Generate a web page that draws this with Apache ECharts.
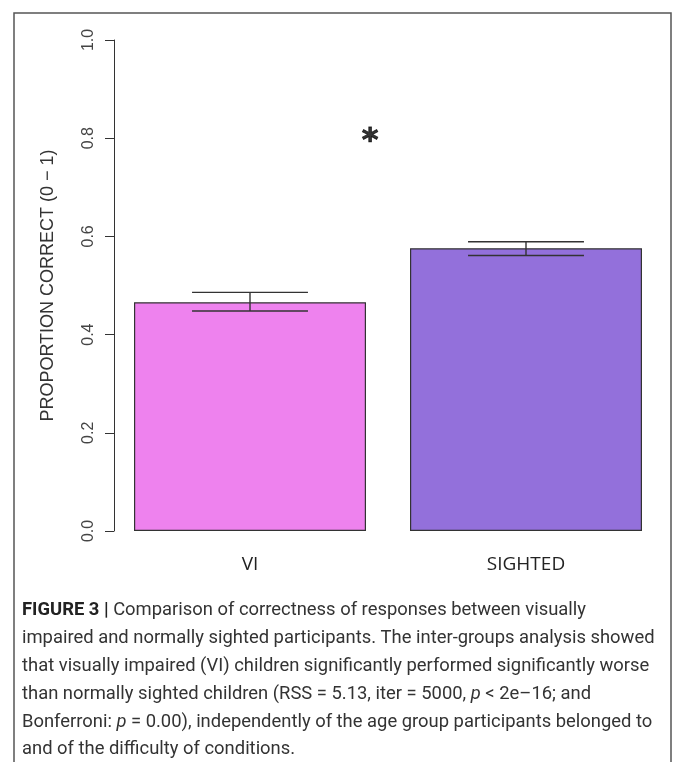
<!DOCTYPE html>
<html>
<head>
<meta charset="utf-8">
<script src="https://cdn.jsdelivr.net/npm/echarts@6/dist/echarts.min.js"></script>
<style>
  html, body { margin: 0; padding: 0; background: #fff; }
  #chart { width: 674px; height: 762px; }
</style>
</head>
<body>
<div id="chart"></div>
<script>
// Group labels and mean proportion of correct responses
const groups = ['VI', 'SIGHTED'];
const meanCorrect = [0.466, 0.576];
// Error bar limits (lower / upper)
const errLow = [0.448, 0.561];
const errHigh = [0.486, 0.589];
const barColors = ['#EE82EE', '#9370DB'];
// Y axis ticks
const yTicks = [0, 0.2, 0.4, 0.6, 0.8, 1.0];
// Significance star, on a 0–2 helper axis spanning both groups
const starPos = [[0.935, 0.81]];

const captionLines = [
  '{b|FIGURE 3 |} Comparison of correctness of responses between visually',
  'impaired and normally sighted participants. The inter-groups analysis showed',
  'that visually impaired (VI) children significantly performed significantly worse',
  'than normally sighted children (RSS = 5.13, iter = 5000, {i|p} < 2e\u201316; and',
  'Bonferroni: {i|p} = 0.00), independently of the age group participants belonged to',
  'and of the difficulty of conditions.'
];

const chart = echarts.init(document.getElementById('chart'), null, { renderer: 'canvas' });

const errStyle = { stroke: '#333', lineWidth: 1.4 };
const capFont = 18.4;
const capLine = 27.8;

chart.setOption({
  animation: false,
  backgroundColor: '#fff',
  grid: { left: 112, top: 40, width: 552, height: 491 },
  xAxis: [
    {
      type: 'category',
      data: groups,
      axisLine: { show: false },
      axisTick: { show: false },
      axisLabel: {
        margin: 24,
        fontFamily: 'Open Sans',
        fontSize: 19,
        color: '#222'
      }
    },
    { type: 'value', min: 0, max: 2, show: false }
  ],
  yAxis: {
    type: 'value',
    min: yTicks[0],
    max: yTicks[yTicks.length - 1],
    interval: 0.2,
    offset: -2,
    axisLine: { show: true, lineStyle: { color: '#333', width: 1 } },
    axisTick: { show: true, length: 9, lineStyle: { color: '#333' } },
    splitLine: { show: false },
    axisLabel: {
      rotate: 90,
      margin: 17,
      fontFamily: 'Liberation Sans',
      fontSize: 16,
      color: '#444',
      formatter: v => v.toFixed(1)
    },
    name: 'PROPORTION CORRECT (0 \u2212 1)',
    nameLocation: 'middle',
    nameGap: 57,
    nameRotate: 90,
    nameTextStyle: { fontFamily: 'Liberation Sans', fontSize: 18, color: '#333' }
  },
  series: [
    {
      type: 'bar',
      barWidth: 232,
      data: meanCorrect.map((v, i) => ({
        value: v,
        itemStyle: { color: barColors[i], borderColor: '#333', borderWidth: 1.2 }
      }))
    },
    {
      type: 'custom',
      z: 10,
      encode: { x: 0, y: [1, 2] },
      data: groups.map((g, i) => [i, errLow[i], errHigh[i]]),
      renderItem(params, api) {
        const lo = api.coord([api.value(0), api.value(1)]);
        const hi = api.coord([api.value(0), api.value(2)]);
        const half = api.size([1, 0])[0] * 0.21;
        const x = lo[0];
        return {
          type: 'group',
          children: [
            { type: 'line', shape: { x1: x, y1: hi[1], x2: x, y2: lo[1] }, style: errStyle },
            { type: 'line', shape: { x1: x - half, y1: hi[1], x2: x + half, y2: hi[1] }, style: errStyle },
            { type: 'line', shape: { x1: x - half, y1: lo[1], x2: x + half, y2: lo[1] }, style: errStyle }
          ]
        };
      }
    },
    {
      type: 'scatter',
      xAxisIndex: 1,
      symbol: 'circle',
      symbolSize: 1,
      itemStyle: { color: 'rgba(0,0,0,0)' },
      z: 12,
      data: starPos,
      label: {
        show: true,
        position: 'inside',
        formatter: '*',
        offset: [0, 8],
        fontFamily: 'DejaVu Sans',
        fontWeight: 'bold',
        fontSize: 32,
        color: '#000',
        textBorderColor: '#000',
        textBorderWidth: 0.8
      }
    }
  ],
  graphic: [
    {
      type: 'rect',
      shape: { x: 14, y: 13, width: 657, height: 800 },
      style: { fill: 'none', stroke: '#555', lineWidth: 1.5 },
      silent: true
    },
    {
      type: 'text',
      left: 22,
      top: 597,
      style: {
        text: captionLines.join('\n'),
        font: capFont + 'px Roboto',
        fill: '#333',
        lineHeight: capLine,
        rich: {
          b: { fontFamily: 'Roboto', fontWeight: 'bold', fontSize: capFont, fill: '#222', lineHeight: capLine },
          i: { fontFamily: 'Roboto', fontStyle: 'italic', fontSize: capFont, fill: '#333', lineHeight: capLine }
        }
      }
    }
  ]
});
</script>
</body>
</html>
